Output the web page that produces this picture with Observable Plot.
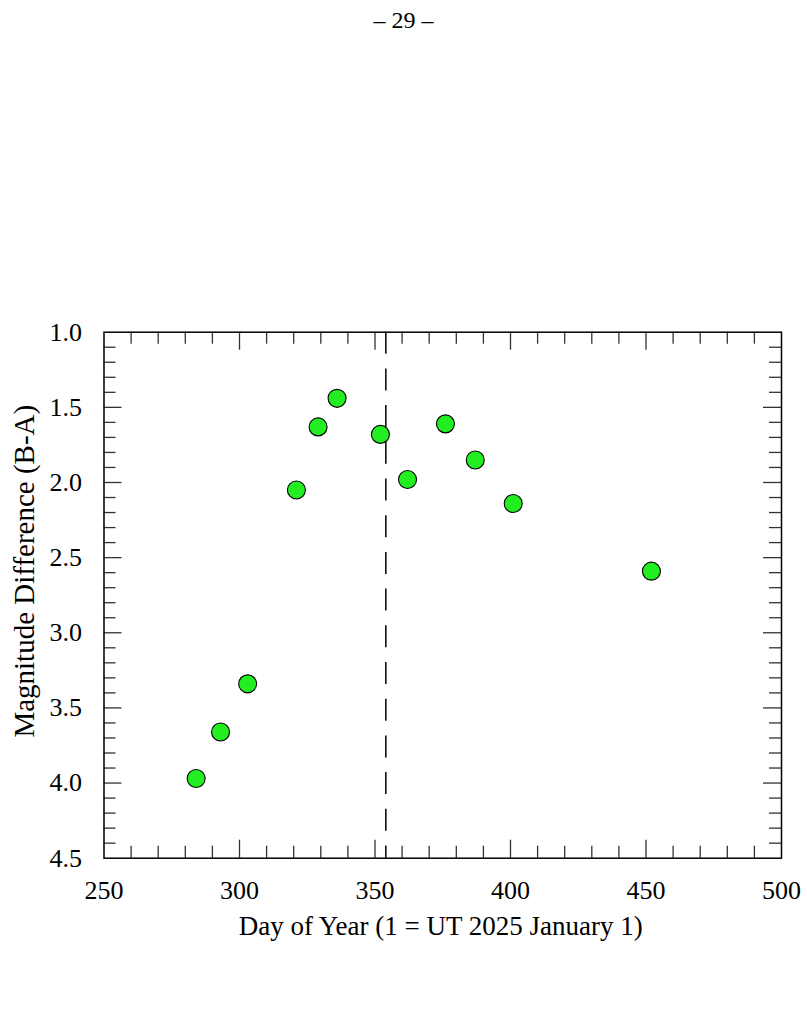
<!DOCTYPE html>
<html>
<head>
<meta charset="utf-8">
<script src="https://cdn.jsdelivr.net/npm/d3@7"></script>
<script src="https://cdn.jsdelivr.net/npm/@observablehq/plot@0.6"></script>
<style>
  html, body { margin: 0; padding: 0; background: #fff; }
  #wrap { position: relative; width: 807px; height: 1010px; }
  #page { position: absolute; top: 8px; left: 0; width: 807px; text-align: center;
          font-family: "Liberation Serif", "DejaVu Serif", serif; font-size: 24px; line-height: 24px; color: #000; }
</style>
</head>
<body>
<div id="wrap">
  <div id="page">– 29 –</div>
  <div id="chart"></div>
</div>
<script>
// Data
const days = [284, 293, 303, 321, 329, 336, 352, 362, 376, 387, 401, 452];
const magDiff = [3.97, 3.66, 3.34, 2.05, 1.63, 1.44, 1.68, 1.98, 1.61, 1.85, 2.14, 2.59];
const markerDay = [354];
const xTicks = [250, 300, 350, 400, 450, 500];
const yTicks = [1.0, 1.5, 2.0, 2.5, 3.0, 3.5, 4.0, 4.5];
const xLabel = "Day of Year (1 = UT 2025 January 1)";
const yLabel = "Magnitude Difference (B-A)";

const data = days.map((d, i) => ({day: d, mag: magDiff[i]}));
const xMinor = d3.range(260, 500, 10).filter(v => v % 50 !== 0);
const xMajorInner = xTicks.filter(v => v > 250 && v < 500);
const yMinor = d3.range(11, 45).map(v => v / 10).filter(v => Math.round(v * 10) % 5 !== 0);
const yMajorInner = yTicks.filter(v => v > 1 && v < 4.5);

const W = 807, H = 1010;
const mL = 103.5, mR = 26, mT = 331.7, mB = 152.3;
const fW = W - mL - mR, fH = H - mT - mB;
const minorLen = 12, majorLen = 18;
const tickStroke = "#333";

const chart = Plot.plot({
  width: W,
  height: H,
  marginLeft: mL,
  marginRight: mR,
  marginTop: mT,
  marginBottom: mB,
  style: {fontFamily: "Liberation Serif, DejaVu Serif, serif", fontSize: "26px", color: "#000", background: "#fff"},
  x: {domain: [250, 500], ticks: xTicks, tickSize: 0, tickPadding: 22, label: null},
  y: {domain: [1, 4.5], reverse: true, ticks: yTicks, tickFormat: d3.format(".1f"), tickSize: 0, tickPadding: 22, label: null},
  marks: [
    // inward ticks: bottom & top
    Plot.tickX(xMinor, {x: d => d, insetTop: fH - minorLen, stroke: tickStroke, strokeWidth: 1.3}),
    Plot.tickX(xMajorInner, {x: d => d, insetTop: fH - majorLen, stroke: tickStroke, strokeWidth: 1.3}),
    Plot.tickX(xMinor, {x: d => d, insetBottom: fH - minorLen, stroke: tickStroke, strokeWidth: 1.3}),
    Plot.tickX(xMajorInner, {x: d => d, insetBottom: fH - majorLen, stroke: tickStroke, strokeWidth: 1.3}),
    // inward ticks: left & right
    Plot.tickY(yMinor, {y: d => d, insetRight: fW - minorLen, stroke: tickStroke, strokeWidth: 1.3}),
    Plot.tickY(yMajorInner, {y: d => d, insetRight: fW - majorLen, stroke: tickStroke, strokeWidth: 1.3}),
    Plot.tickY(yMinor, {y: d => d, insetLeft: fW - minorLen, stroke: tickStroke, strokeWidth: 1.3}),
    Plot.tickY(yMajorInner, {y: d => d, insetLeft: fW - majorLen, stroke: tickStroke, strokeWidth: 1.3}),
    // vertical dashed marker
    Plot.ruleX(markerDay, {x: d => d, stroke: "#000", strokeWidth: 1.5, strokeDasharray: "22,14.7"}),
    // points
    Plot.dot(data, {x: "day", y: "mag", r: 9, fill: "#22ee22", stroke: "#000", strokeWidth: 1.1}),
    // frame
    Plot.frame({stroke: "#000", strokeWidth: 1.5}),
    // axis titles
    Plot.text([xLabel], {frameAnchor: "bottom", textAnchor: "middle", dy: 77, dx: -2, fontSize: 27, fill: "#000"}),
    Plot.text([yLabel], {frameAnchor: "left", textAnchor: "middle", rotate: -90, dx: -79, dy: -24, fontSize: 29, fill: "#000"})
  ]
});
document.getElementById("chart").appendChild(chart);
</script>
</body>
</html>
